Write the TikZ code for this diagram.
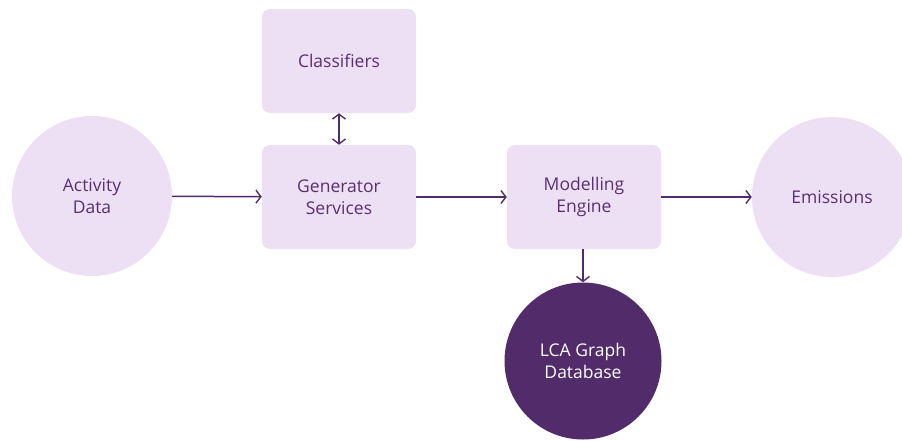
\documentclass[tikz,border=0pt]{standalone}
\usepackage{fontspec}
\setmainfont{Open Sans}
\usetikzlibrary{arrows.meta}

\definecolor{lilac}{HTML}{EDE0F5}
\definecolor{plum}{HTML}{522B6A}
\definecolor{plumtext}{HTML}{5A2F72}

\tikzset{
  stage/.style={fill=lilac, rounded corners=8pt, minimum width=154pt,
    minimum height=104pt, align=center, text=plumtext, inner sep=0pt},
  endpoint/.style={circle, fill=lilac, minimum size=160pt, align=center,
    text=plumtext, inner sep=0pt},
  store/.style={circle, fill=plum, minimum size=157pt, align=center,
    text=white, inner sep=0pt},
  barb/.tip={Straight Barb[length=5pt,width=13pt,line width=1.4pt]},
  flow/.style={draw=plum, line width=1.5pt, -barb},
}

\begin{document}
\begin{tikzpicture}[x=1pt, y=-1pt, font=\fontsize{17.5}{22}\selectfont]
  \useasboundingbox (0,0) rectangle (902,440);

  % Inputs and outputs
  \node[endpoint] (activity) at (92,196) {Activity\\Data};
  \node[endpoint] (emissions) at (832,197) {Emissions};

  % Processing stages
  \node[stage] (classifiers) at (339,61) {Classifiers};
  \node[stage] (generator) at (339,197) {Generator\\Services};
  \node[stage] (modelling) at (584,197) {Modelling\\Engine};

  % Graph store below the engine
  \node[store] (lca) at (583,361) {LCA Graph\\Database};

  % Data flow
  \draw[flow] (activity) -- (generator);
  \draw[flow] (generator) -- (modelling);
  \draw[flow] (modelling) -- (emissions);
  \draw[flow] (modelling.south -| lca) -- (lca);
  \draw[flow, barb-barb] (classifiers) -- (generator);
\end{tikzpicture}
\end{document}
